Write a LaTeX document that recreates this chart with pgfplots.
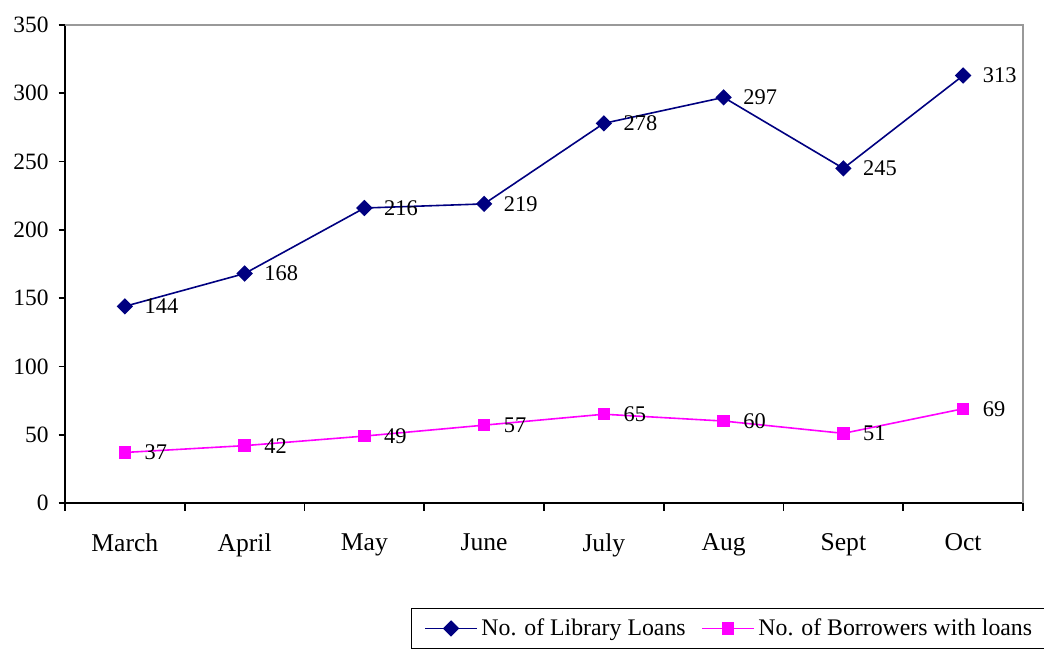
\documentclass[border=0pt]{standalone}
\usepackage{pgfplots}
\pgfplotsset{compat=1.18}
\usepackage{fontspec}
\setmainfont{Liberation Serif}
\definecolor{navyc}{RGB}{0,0,128}
\definecolor{magc}{RGB}{255,0,255}
\begin{document}
\begin{tikzpicture}
\path[use as bounding box] (0,0) rectangle (522pt,324pt);
\begin{axis}[
  at={(32.5pt,72.5pt)}, anchor=south west,
  scale only axis, width=479pt, height=239pt,
  xmin=-0.5, xmax=7.5, ymin=0, ymax=350,
  axis x line*=bottom, axis y line*=left,
  axis line style={black, line width=0.8pt, -},
  xtick={0,...,7},
  xticklabels={March,April,May,June,July,Aug,Sept,Oct},
  major x tick style={draw=none},
  minor xtick={-0.5,0.5,...,7.5},
  minor x tick style={black, line width=0.8pt},
  ytick={0,50,...,350},
  ytick style={black, line width=0.8pt},
  tick align=outside,
  major tick length=3.2pt, minor tick length=3.8pt,
  /pgf/number format/assume math mode=true,
  xticklabel style={yshift=-8.5pt, font=\fontsize{12.8pt}{14pt}\selectfont},
  yticklabel style={xshift=-1.5pt, font=\fontsize{11.7pt}{13pt}\selectfont},
  nodes near coords,
  every node near coord/.append style={anchor=west, inner sep=0pt, xshift=9.5pt, yshift=0pt, black, font=\fontsize{11.2pt}{13pt}\selectfont},
  legend columns=2,
  legend style={at={(0.3612,-0.2197)}, anchor=north west, draw=black, line width=0.6pt,
    font=\fontsize{11.9pt}{13pt}\selectfont, inner xsep=6.5pt, inner ysep=3pt,
    /tikz/every even column/.append style={column sep=6pt}},
  legend image code/.code={\draw[#1,mark=none] (0cm,0cm) -- (0.9cm,0cm); \draw[#1,only marks] plot coordinates {(0.45cm,0cm)};},
  clip=false,
]
\draw[gray!80, line width=0.6pt] (rel axis cs:0,1) -- (rel axis cs:1,1) -- (rel axis cs:1,0);
\addplot[navyc, line width=0.8pt, mark=square*, mark size=2.5pt, mark options={fill=navyc, draw=navyc, rotate=45}]
 coordinates {(0,144) (1,168) (2,216) (3,219) (4,278) (5,297) (6,245) (7,313)};
\addlegendentry{No. of Library Loans}
\addplot[magc, line width=0.8pt, mark=square*, mark size=2.7pt, mark options={fill=magc, draw=magc}]
 coordinates {(0,37) (1,42) (2,49) (3,57) (4,65) (5,60) (6,51) (7,69)};
\addlegendentry{No. of Borrowers with loans}
\end{axis}
\end{tikzpicture}
\end{document}
